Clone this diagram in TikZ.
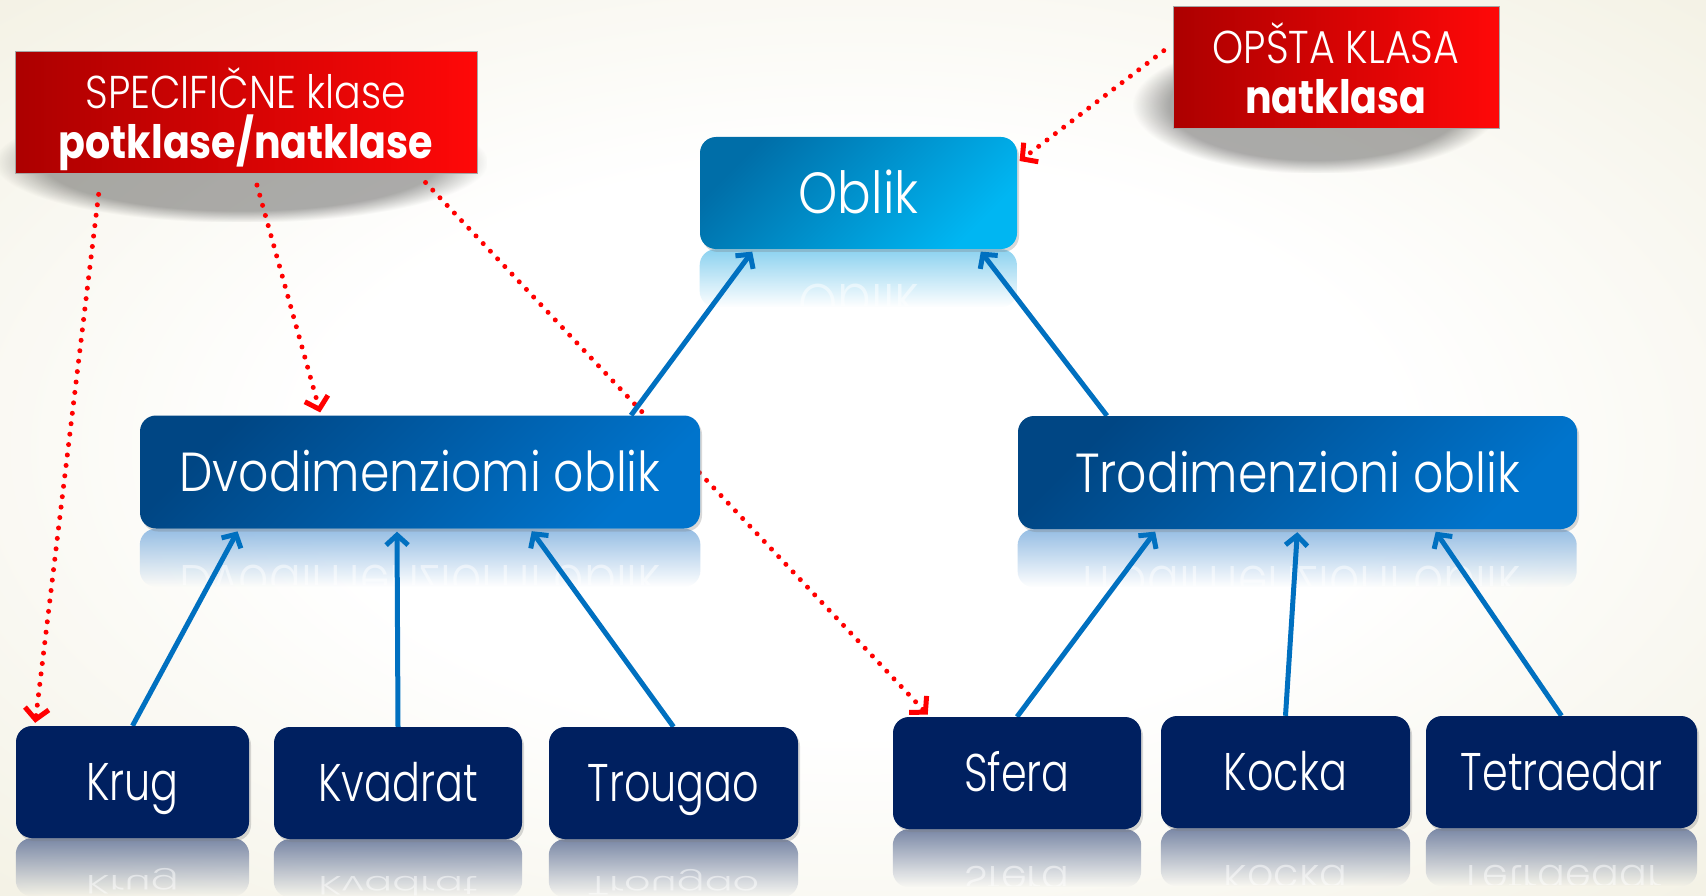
\documentclass[tikz,border=0pt]{standalone}
\usepackage{fontspec}
\setmainfont{Poppins}[UprightFont=* Light, BoldFont=* Bold, FakeStretch=0.86]
\newfontfamily\leaffont{Poppins}[UprightFont=* Light, FakeStretch=0.78]
\usetikzlibrary{arrows.meta,calc,fadings,shadows}

\definecolor{bgcream}{RGB}{239,236,218}
\definecolor{bgdeep}{RGB}{231,227,198}
\definecolor{oblikdark}{RGB}{0,110,168}
\definecolor{oblikbright}{RGB}{0,182,242}
\definecolor{middark}{RGB}{0,70,132}
\definecolor{midbright}{RGB}{0,116,204}
\definecolor{leafblue}{RGB}{0,32,96}
\definecolor{reddark}{RGB}{172,0,0}
\definecolor{redbright}{RGB}{255,8,8}
\definecolor{arrowblue}{RGB}{0,112,192}
\definecolor{reflcyan}{RGB}{140,210,240}
\definecolor{reflmid}{RGB}{150,190,228}
\definecolor{reflleaf}{RGB}{122,136,166}

\pgfdeclareradialshading{slide}{\pgfpoint{0bp}{0bp}}{color(0bp)=(white); color(16bp)=(white); color(44bp)=(bgcream); color(72bp)=(bgdeep)}

\pgfdeclarelayer{bg}
\pgfdeclarelayer{back}
\pgfsetlayers{bg,back,main}

\begin{document}
\begin{tikzpicture}[x=1pt,y=-1pt,
  topfont/.style={font=\fontsize{58}{60}\selectfont, text height=41pt, text depth=0pt},
  midfont/.style={font=\fontsize{55}{58}\selectfont, text height=39pt, text depth=0pt},
  leaffont/.style={font=\leaffont\fontsize{53}{56}\selectfont, text height=37pt, text depth=0pt},
  box/.style={rectangle, rounded corners=16pt, text=white, inner sep=0pt, minimum height=112pt,
    drop shadow={shadow xshift=2pt, shadow yshift=-3pt, opacity=0.3}},
  topbox/.style={box, topfont, top color=oblikdark, bottom color=oblikbright, shading angle=45},
  midbox/.style={box, midfont, top color=middark, bottom color=midbright, shading angle=45, minimum height=113pt},
  leaf/.style={box, leaffont, fill=leafblue},
  note/.style={rectangle, draw=gray!70, line width=1pt, text=white, align=center, inner sep=0pt,
    minimum height=122pt, text depth=0pt, left color=reddark, right color=redbright,
    font=\fontsize{46}{50}\selectfont},
  noteshadow/.style={black, opacity=0.32, path fading=circle with fuzzy edge 20 percent},
  ghost/.style={text=white, text opacity=0.5, inner sep=0pt, anchor=base},
  isa/.style={arrowblue, line width=5pt, -{Straight Barb[length=10pt,width=22pt]}, shorten >=3pt},
  hint/.style={red, line width=5pt, line cap=round, dash pattern=on 0pt off 10.5pt,
    -{Straight Barb[length=11pt,width=24pt]}, shorten >=3pt}]

\useasboundingbox (0,0) rectangle (1706,896);
\begin{pgfonlayer}{bg}
\shade[shading=slide] (0,0) rectangle (1706,896);
\end{pgfonlayer}

\node[note, minimum width=462pt] (spec) at (246,113) {SPECIFIČNE klase\\\textbf{potklase/natklase}};
\node[note, minimum width=326pt] (opsta) at (1336,68) {OPŠTA KLASA\\\textbf{natklasa}};

\node[topbox, minimum width=317pt] (oblik) at (858.5,193) {Oblik};
\node[midbox, minimum width=560pt] (dvo) at (420,472) {Dvodimenziomi oblik};
\node[midbox, minimum width=559pt] (tro) at (1297.5,472.5) {Trodimenzioni oblik};

\node[leaf, minimum width=233pt] (krug) at (132.5,782) {Krug};
\node[leaf, minimum width=248pt] (kvadrat) at (398,783) {Kvadrat};
\node[leaf, minimum width=249pt] (trougao) at (673.5,783) {Trougao};
\node[leaf, minimum width=248pt] (sfera) at (1017,773) {Sfera};
\node[leaf, minimum width=249pt] (kocka) at (1285.5,772) {Kocka};
\node[leaf, minimum width=271pt] (tetra) at (1561.5,772) {Tetraedar};

\begin{pgfonlayer}{back}
\fill[noteshadow] ([xshift=-20pt,yshift=-50pt]spec.north west) rectangle ([xshift=10pt,yshift=-48pt]spec.south east);
\fill[noteshadow] ([xshift=-40pt,yshift=-30pt]opsta.north west) rectangle ([xshift=0pt,yshift=-44pt]opsta.south east);

\foreach \n/\c/\t/\f/\s in {oblik/reflcyan/Oblik/topfont/1, dvo/reflmid/Dvodimenziomi oblik/midfont/1,
    tro/reflmid/Trodimenzioni oblik/midfont/1, krug/reflleaf/Krug/leaffont/0.5, kvadrat/reflleaf/Kvadrat/leaffont/0.5,
    trougao/reflleaf/Trougao/leaffont/0.5, sfera/reflleaf/Sfera/leaffont/0.75, kocka/reflleaf/Kocka/leaffont/0.75,
    tetra/reflleaf/Tetraedar/leaffont/0.75}
{
  \fill[\c, path fading=south, rounded corners=16pt] (\n.south west) rectangle ([yshift=-58pt]\n.south east);
  \begin{scope}
    \clip (\n.south west) rectangle ([yshift=-56pt]\n.south east);
    \node[\f, ghost] (\n-mirror) at ($(\n.base)!2!(\n.south)$) {\scalebox{1}[-\s]{\t}};
  \end{scope}
}

\draw[hint, shorten <=20pt] ([xshift=-145pt]spec.south) -- ([xshift=19pt]krug.north west);
\draw[hint, shorten <=11pt] ([xshift=8pt]spec.south) -- ([xshift=-99pt]dvo.north);
\draw[hint, shorten <=11pt] ([xshift=172pt]spec.south) -- ([xshift=37pt]sfera.north west);
\draw[hint, shorten <=11pt] ([yshift=24pt]opsta.west) -- ([yshift=-26pt]oblik.north east);

\draw[isa] (krug.north) -- ([xshift=-181pt]dvo.south);
\draw[isa] (kvadrat.north) -- ([xshift=-23pt]dvo.south);
\draw[isa] (trougao.north) -- ([xshift=110pt]dvo.south);
\draw[isa] ([xshift=211pt]dvo.north) -- ([xshift=-104.5pt]oblik.south);
\draw[isa] ([xshift=-190.5pt]tro.north) -- ([xshift=120.5pt]oblik.south);
\draw[isa] (sfera.north) -- ([xshift=-140.5pt]tro.south);
\draw[isa] (kocka.north) -- (tro.south);
\draw[isa] (tetra.north) -- ([xshift=136.5pt]tro.south);
\end{pgfonlayer}
\end{tikzpicture}
\end{document}
